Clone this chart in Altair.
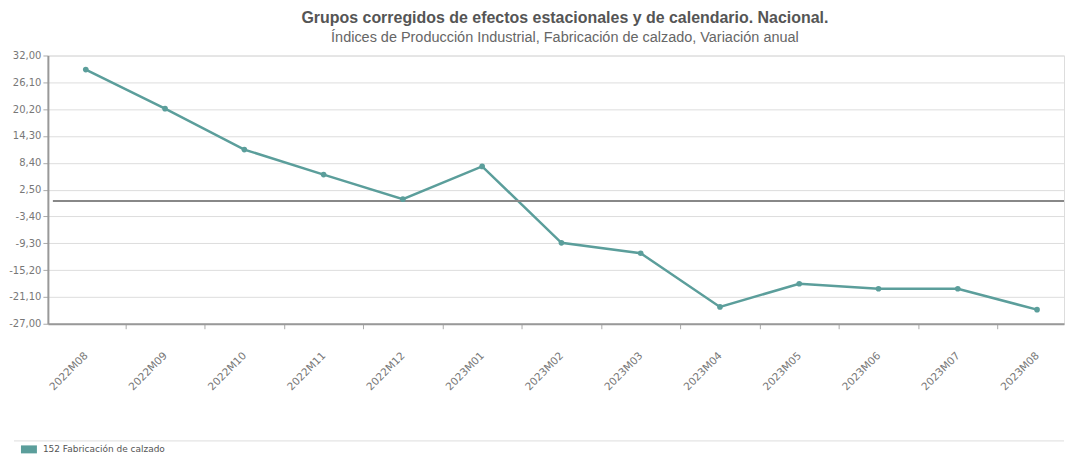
import altair as alt
import pandas as pd

periods = ["2022M08", "2022M09", "2022M10", "2022M11", "2022M12", "2023M01", "2023M02",
           "2023M03", "2023M04", "2023M05", "2023M06", "2023M07", "2023M08"]
values = [28.9, 20.3, 11.3, 5.8, 0.4, 7.6, -9.2, -11.5, -23.3, -18.2, -19.3, -19.3, -23.9]
series_name = "152 Fabricación de calzado"
y_ticks = [32.0, 26.1, 20.2, 14.3, 8.4, 2.5, -3.4, -9.3, -15.2, -21.1, -27.0]

idx = list(range(len(periods)))
df = pd.DataFrame({"idx": idx, "periodo": periods, "valor": values, "serie": series_name})
zero_df = pd.DataFrame({"y": [0.0]})

W, H = 1019, 269
teal = "#5b9e9b"
rect_path = "M-1,-0.5H1V0.5H-1Z"

# x positions: category index; ticks drawn on the boundaries between categories
x_values = sorted(idx + [i + 0.5 for i in idx[:-1]])
periods_js = "[" + ",".join("'" + p + "'" for p in periods) + "]"
x_label_expr = f"datum.value % 1 == 0 ? {periods_js}[datum.value] : ''"

x_enc = alt.X("idx:Q", title=None,
              scale=alt.Scale(domain=[-0.478, 12.34], nice=False, zero=False),
              axis=alt.Axis(values=x_values, tickCount=len(x_values) + 5,
                            labelExpr=x_label_expr, labelAngle=-45,
                            labelAlign="right", labelBaseline="middle",
                            labelFontSize=10.5, labelColor="#777", labelFont="DejaVu Sans",
                            labelPadding=25, labelOverlap=False, labelFlush=False,
                            tickColor="#aaa", tickSize=5,
                            tickOpacity={"condition": {"test": "datum.value % 1 == 0", "value": 0}, "value": 1},
                            domainColor="#999", domainWidth=2, grid=False))
y_enc = alt.Y("valor:Q", title=None,
              scale=alt.Scale(domain=[-27, 32], nice=False, zero=False),
              axis=alt.Axis(values=y_ticks, tickCount=len(y_ticks) + 5, labelOverlap=False,
                            labelExpr="replace(replace(format(datum.value, '.2f'), '.', ','), '\u2212', '-')",
                            labelFontSize=10, labelColor="#777", labelFont="DejaVu Sans",
                            labelPadding=2, tickColor="#aaa", tickSize=5,
                            domainColor="#999", domainWidth=2,
                            gridColor="#ddd", gridWidth=1))

line = alt.Chart(df).mark_line(color=teal, strokeWidth=2.5).encode(x=x_enc, y=y_enc)
points = alt.Chart(df).mark_point(filled=True, size=32, opacity=1).encode(
    x="idx:Q",
    y="valor:Q",
    color=alt.Color("serie:N", scale=alt.Scale(range=[teal]), title=None,
                    legend=alt.Legend(orient="none", legendX=-27, legendY=387,
                                      symbolType=rect_path, symbolSize=256,
                                      symbolStrokeWidth=0, labelFontSize=9,
                                      labelColor="#555", labelFont="DejaVu Sans",
                                      labelOffset=6)),
)
zero = alt.Chart(zero_df).mark_rule(color="#888", strokeWidth=2).encode(
    y="y:Q", x=alt.value(5), x2=alt.value(W))
sep = alt.Chart(zero_df).mark_rule(color="#ddd", strokeWidth=1).encode(
    x=alt.value(-34), x2=alt.value(W), y=alt.value(386.5))

chart = alt.layer(sep, line, zero, points).properties(
    width=W, height=H,
    padding={"left": 0, "top": 1, "right": 0, "bottom": 0},
    title=alt.TitleParams(
        text="Grupos corregidos  de efectos estacionales y de calendario. Nacional.",
        subtitle="Índices de Producción Industrial, Fabricación de calzado, Variación anual",
        font="Liberation Sans", fontSize=16, fontWeight="bold",
        color="#555", subtitleFont="Liberation Sans",
        subtitleFontSize=14.5, subtitleColor="#666", subtitlePadding=5, offset=6,
        anchor="middle", dx=9),
).configure_view(stroke="#999", strokeWidth=2).configure(background="white")

chart.save("out.html", embed_options={"renderer": "svg", "actions": False})
